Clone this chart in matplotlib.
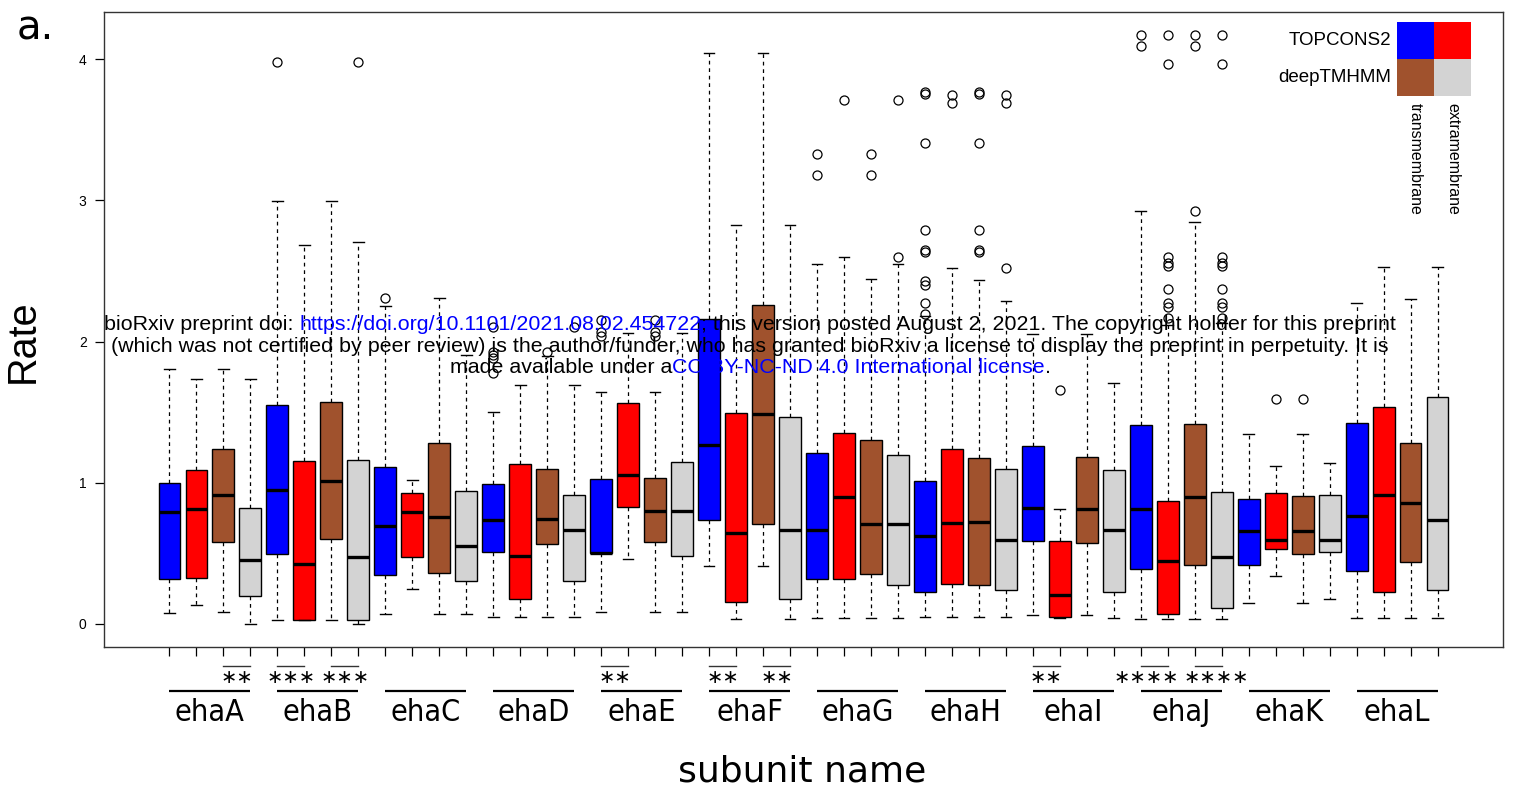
import matplotlib
matplotlib.use("Agg")
import matplotlib.pyplot as plt
from matplotlib.transforms import blended_transform_factory
from matplotlib.patches import Rectangle

# ---------------- data ----------------
groups = ["ehaA", "ehaB", "ehaC", "ehaD", "ehaE", "ehaF",
          "ehaG", "ehaH", "ehaI", "ehaJ", "ehaK", "ehaL"]
series_colors = ["#0000FF", "#FF0000", "#A0522D", "#D3D3D3"]  # TOPCONS2 TM, TOPCONS2 extra, deepTMHMM TM, deepTMHMM extra

# per box (group order, within group: blue, red, brown, gray)
whislo = [0.081, 0.136, 0.084, 0.000,
          0.026, 0.026, 0.026, 0.000,
          0.070, 0.249, 0.070, 0.070,
          0.049, 0.049, 0.049, 0.049,
          0.084, 0.461, 0.084, 0.084,
          0.412, 0.032, 0.412, 0.032,
          0.043, 0.043, 0.043, 0.043,
          0.049, 0.049, 0.049, 0.049,
          0.064, 0.043, 0.064, 0.043,
          0.035, 0.035, 0.035, 0.035,
          0.148, 0.339, 0.148, 0.180,
          0.043, 0.043, 0.043, 0.043]
q1 = [0.319, 0.325, 0.580, 0.200,
      0.499, 0.026, 0.600, 0.029,
      0.345, 0.475, 0.359, 0.301,
      0.513, 0.177, 0.568, 0.304,
      0.504, 0.829, 0.583, 0.481,
      0.736, 0.154, 0.710, 0.177,
      0.319, 0.319, 0.354, 0.275,
      0.226, 0.284, 0.278, 0.238,
      0.586, 0.049, 0.574, 0.223,
      0.388, 0.072, 0.417, 0.116,
      0.420, 0.533, 0.499, 0.510,
      0.377, 0.226, 0.441, 0.238]
medians = [0.794, 0.817, 0.913, 0.452,
           0.948, 0.426, 1.009, 0.475,
           0.693, 0.794, 0.757, 0.554,
           0.736, 0.484, 0.745, 0.667,
           0.504, 1.055, 0.800, 0.797,
           1.264, 0.646, 1.490, 0.667,
           0.667, 0.899, 0.710, 0.710,
           0.623, 0.716, 0.725, 0.597,
           0.820, 0.206, 0.817, 0.664,
           0.817, 0.449, 0.896, 0.475,
           0.655, 0.594, 0.655, 0.594,
           0.768, 0.913, 0.858, 0.736]
q3 = [0.997, 1.090, 1.238, 0.823,
      1.551, 1.151, 1.574, 1.159,
      1.110, 0.928, 1.284, 0.945,
      0.994, 1.130, 1.099, 0.916,
      1.029, 1.565, 1.035, 1.145,
      2.159, 1.496, 2.261, 1.467,
      1.214, 1.354, 1.301, 1.197,
      1.012, 1.238, 1.177, 1.096,
      1.258, 0.586, 1.180, 1.087,
      1.412, 0.872, 1.417, 0.933,
      0.884, 0.928, 0.904, 0.910,
      1.420, 1.539, 1.284, 1.606]
whishi = [1.803, 1.733, 1.803, 1.733,
          2.997, 2.684, 2.997, 2.704,
          2.249, 1.017, 2.310, 1.904,
          1.501, 1.692, 1.900, 1.692,
          1.645, 2.058, 1.645, 2.058,
          4.040, 2.823, 4.040, 2.823,
          2.548, 2.597, 2.441, 2.548,
          2.180, 2.519, 2.432, 2.287,
          2.055, 0.814, 2.055, 1.704,
          2.922, 2.120, 2.846, 2.130,
          1.348, 1.116, 1.348, 1.139,
          2.275, 2.530, 2.299, 2.530]
outliers = [[], [], [], [],
            [3.977], [], [], [3.977],
            [2.310], [], [], [],
            [2.105, 1.928, 1.905, 1.883, 1.777], [], [1.926], [2.105],
            [2.152, 2.070, 2.039], [], [2.152, 2.070, 2.040], [],
            [], [], [], [],
            [3.325, 3.177], [3.710], [3.325, 3.177], [3.710, 2.597],
            [3.765, 3.755, 3.406, 2.791, 2.648, 2.637, 2.430, 2.400, 2.275, 2.194],
            [3.745, 3.687],
            [3.765, 3.755, 3.406, 2.791, 2.648, 2.637],
            [3.745, 3.687, 2.519],
            [], [1.658], [], [],
            [4.171, 4.090],
            [4.171, 3.962, 2.600, 2.558, 2.535, 2.370, 2.270, 2.246, 2.166],
            [4.171, 4.090, 2.922],
            [4.171, 3.962, 2.600, 2.558, 2.535, 2.370, 2.270, 2.246, 2.166],
            [], [1.594], [1.594], [],
            [], [], [], []]

# significance marks: (group index, pair index 0=TOPCONS2 / 1=deepTMHMM, stars)
sig_groups = [0, 1, 1, 4, 5, 5, 8, 9, 9]
sig_pairs = [1, 0, 1, 0, 0, 1, 0, 0, 1]
sig_stars = ["**", "***", "***", "**", "**", "**", "**", "****", "****"]

yticks = [0, 1, 2, 3, 4]
legend_rows = ["TOPCONS2", "deepTMHMM"]
legend_cols = ["transmembrane", "extramembrane"]

# ---------------- figure ----------------
W, H = 1516, 795
fig = plt.figure(figsize=(W / 100, H / 100), dpi=100)
ax = fig.add_axes([104 / W, 1 - 647 / H, (1503 - 104) / W, (647 - 12) / H])

n = len(medians)
positions = list(range(1, n + 1))
stats = []
for i in range(n):
    stats.append(dict(med=medians[i], q1=q1[i], q3=q3[i],
                      whislo=whislo[i], whishi=whishi[i], fliers=outliers[i]))

bp = ax.bxp(stats, positions=positions, widths=0.8, capwidths=0.4,
            patch_artist=True, showfliers=True,
            boxprops=dict(edgecolor="black", linewidth=1.0),
            medianprops=dict(color="black", linewidth=2.4, solid_capstyle="butt"),
            whiskerprops=dict(color="black", linewidth=0.9, linestyle=(0, (3, 3))),
            capprops=dict(color="black", linewidth=1.0),
            flierprops=dict(marker="o", markerfacecolor="none", markeredgecolor="black",
                            markersize=6.5, markeredgewidth=0.9, linestyle="none"))
for i, patch in enumerate(bp["boxes"]):
    patch.set_facecolor(series_colors[i % 4])

ax.set_xlim(-1.42, 50.42)
ax.set_ylim(-0.163, 4.333)
ax.set_yticks(yticks)
ax.set_yticklabels([str(v) for v in yticks], fontfamily="Liberation Sans", fontsize=10)
ax.set_xticks(positions)
ax.set_xticklabels([""] * n)
ax.tick_params(axis="both", direction="out", length=6.5, width=0.9, color="black")
ax.tick_params(axis="y", pad=6)
for s in ax.spines.values():
    s.set_linewidth(1.0)
    s.set_color("#333333")

trans = blended_transform_factory(ax.transData, ax.transAxes)

# group lines and labels
for g, name in enumerate(groups):
    x0 = positions[4 * g]
    x1 = positions[4 * g + 3]
    ax.plot([x0, x1], [-0.0693, -0.0693], transform=trans, color="black",
            lw=1.6, clip_on=False, solid_capstyle="butt")
    ax.text((x0 + x1) / 2, -0.103, name, transform=trans, ha="center", va="center",
            fontsize=22, fontfamily="DejaVu Sans", fontstretch="condensed")

# significance marks
marked = set(zip(sig_groups, sig_pairs))
for g, p, st in zip(sig_groups, sig_pairs, sig_stars):
    xa = positions[4 * g + 2 * p]
    xb = positions[4 * g + 2 * p + 1]
    ax.plot([xa, xb], [-0.0299, -0.0299], transform=trans, color="#333333",
            lw=1.0, clip_on=False)
    shift = 0.0
    if len(st) > 3 and (g, 1 - p) in marked:
        shift = -0.3 if p == 0 else 0.3
    ax.text((xa + xb) / 2 + shift, -0.0475, "\u2217" * len(st), transform=trans,
            ha="center", va="center", fontsize=14, fontfamily="DejaVu Sans")

# axis labels
fig.text(802 / W, 1 - 771 / H, "subunit name", ha="center", va="center",
         fontsize=26, fontfamily="DejaVu Sans")
fig.text(23 / W, 1 - 341 / H, "Rate", ha="center", va="center", rotation=90,
         fontsize=28.5, fontfamily="Liberation Sans")
fig.text(17 / W, 1 - 28 / H, "a.", ha="left", va="center",
         fontsize=29, fontfamily="DejaVu Sans")

# legend (colour grid)
def px2fig(x, y):
    return x / W, 1 - y / H

cell = 37
lx0, ly0 = 1397, 22
for r in range(2):
    for c in range(2):
        fx, fy = px2fig(lx0 + c * cell, ly0 + (r + 1) * cell)
        fig.add_artist(Rectangle((fx, fy), cell / W, cell / H, transform=fig.transFigure,
                                 facecolor=series_colors[2 * r + c], edgecolor="none"))
for r, lab in enumerate(legend_rows):
    fx, fy = px2fig(1391, ly0 + r * cell + cell / 2)
    fig.text(fx, fy, lab, ha="right", va="center", fontsize=13.5, fontfamily="Liberation Sans")
for c, lab in enumerate(legend_cols):
    fx, fy = px2fig(lx0 + c * cell + cell / 2, ly0 + 2 * cell + 7)
    fig.text(fx, fy, lab, ha="center", va="top", rotation=270, fontsize=11.5,
             fontfamily="Liberation Sans")

# bioRxiv watermark (multi-coloured lines)
renderer = fig.canvas.get_renderer()
wm_kw = dict(fontsize=15.4, fontfamily="Liberation Sans")


def twidth(s):
    t = fig.text(0, 0, s, **wm_kw)
    w = t.get_window_extent(renderer).width
    t.remove()
    return w


def colored_line(parts, baseline_px, center_px=750):
    full = "".join(p for p, _ in parts)
    total = twidth(full)
    left = center_px - total / 2
    bar = twidth("|")
    prefix = ""
    for s, col in parts:
        off = twidth(prefix + "|") - bar if prefix else 0.0
        fx, fy = px2fig(left + off, baseline_px)
        fig.text(fx, fy, s, color=col, ha="left", va="baseline", zorder=10, **wm_kw)
        prefix += s


colored_line([("bioRxiv preprint doi: ", "black"),
              ("https://doi.org/10.1101/2021.08.02.454722", "#0000FF"),
              ("; this version posted August 2, 2021. The copyright holder for this preprint", "black")],
             330)
colored_line([("(which was not certified by peer review) is the author/funder, who has granted bioRxiv a license to display the preprint in perpetuity. It is", "black")],
             352)
colored_line([("made available under a", "black"),
              ("CC-BY-NC-ND 4.0 International license", "#0000FF"),
              (".", "black")],
             373)

fig.savefig("out.png", dpi=100)
